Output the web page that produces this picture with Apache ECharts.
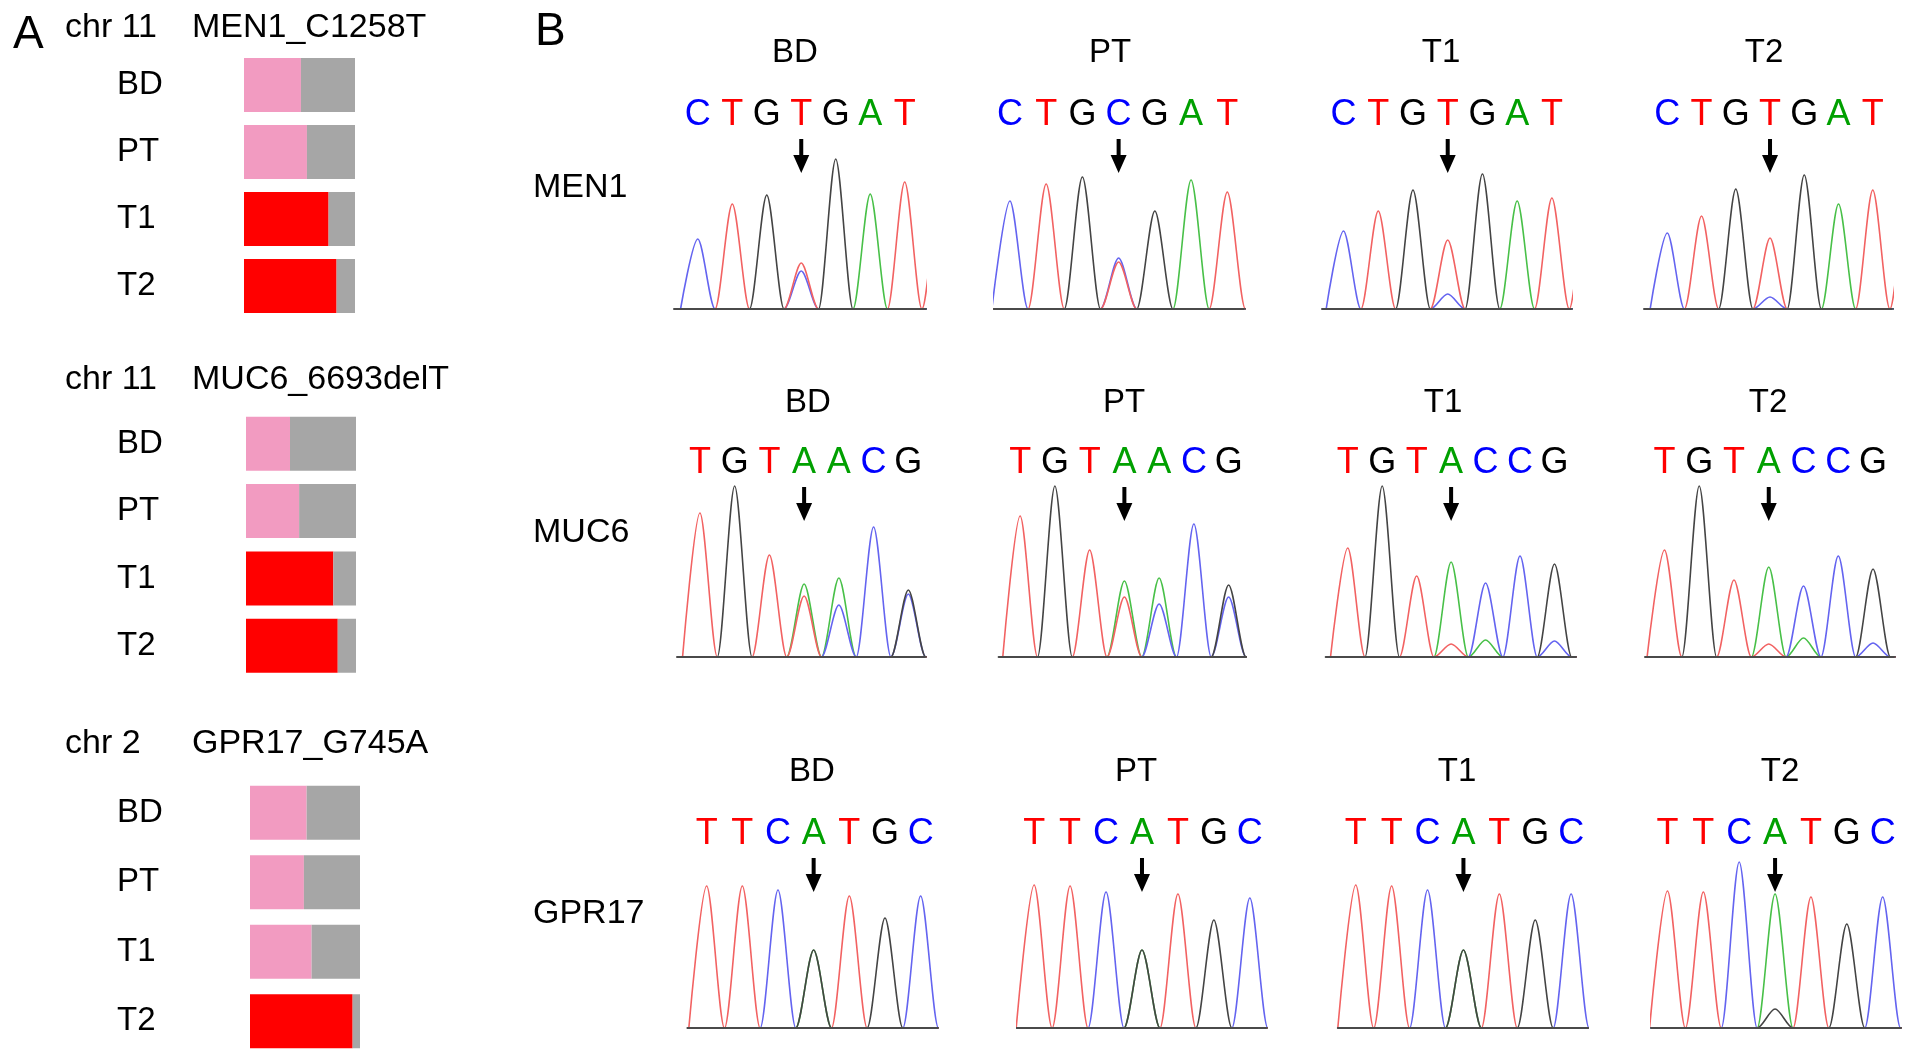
<!DOCTYPE html>
<html><head><meta charset="utf-8">
<script src="https://cdn.jsdelivr.net/npm/echarts@6/dist/echarts.min.js"></script>
<style>html,body{margin:0;padding:0;background:#fff}#c{width:1913px;height:1061px}</style>
</head><body><div id="c"></div>
<script>
// ---------------- DATA ----------------
const samples = ['BD', 'PT', 'T1', 'T2'];
const genes = ['MEN1', 'MUC6', 'GPR17'];
const chroms = ['chr 11', 'chr 11', 'chr 2'];
const variants = ['MEN1_C1258T', 'MUC6_6693delT', 'GPR17_G745A'];

// Panel A: fraction of the coloured (variant) part of each bar
const vafMEN1 = [0.513, 0.567, 0.762, 0.834];
const vafMUC6 = [0.40, 0.483, 0.794, 0.834];
const vafGPR17 = [0.515, 0.49, 0.56, 0.933];
// 1 = drawn red, 0 = drawn pink
const hiMEN1 = [0, 0, 1, 1];
const hiMUC6 = [0, 0, 1, 1];
const hiGPR17 = [0, 0, 0, 1];

// Panel B: base calls per sample
const seqMEN1 = ['CTGTGAT', 'CTGCGAT', 'CTGTGAT', 'CTGTGAT'];
const seqMUC6 = ['TGTAACG', 'TGTAACG', 'TGTACCG', 'TGTACCG'];
const seqGPR17 = ['TTCATGC', 'TTCATGC', 'TTCATGC', 'TTCATGC'];
const mutPos = [3, 3, 3];

// Peak heights at each base position (0..7) per channel, samples BD, PT, T1, T2
// (trace returns to baseline between base positions)
const MEN1_A = [[0,0,0,0,0,115,0,0],[0,0,0,0,0,129,0,0],[0,0,0,0,0,108,0,0],[0,0,0,0,0,105,0,0]];
const MEN1_C = [[70,0,0,38,0,0,0,0],[108,0,0,51,0,0,0,0],[78,0,0,15,0,0,0,0],[76,0,0,12,0,0,0,0]];
const MEN1_G = [[0,0,114,0,150,0,0,0],[0,0,132,0,98,0,0,0],[0,0,119,0,135,0,0,0],[0,0,120,0,134,0,0,0]];
const MEN1_T = [[0,105,0,46,0,0,127,110],[0,125,0,47,0,0,117,0],[0,98,0,69,0,0,111,110],[0,93,0,71,0,0,119,110]];

const MUC6_A = [[0,0,0,73,79,0,0,0],[0,0,0,76,79,0,0,0],[0,0,0,95,17,0,0,0],[0,0,0,90,19,0,0,0]];
const MUC6_C = [[0,0,0,0,52,130,63,0],[0,0,0,0,53,133,60,0],[0,0,0,0,74,101,16,0],[0,0,0,0,71,101,14,0]];
const MUC6_G = [[0,171,0,0,0,0,67,0],[0,171,0,0,0,0,72,0],[0,171,0,0,0,0,93,0],[0,171,0,0,0,0,88,0]];
const MUC6_T = [[144,0,102,61,0,0,0,0],[141,0,107,60,0,0,0,0],[109,0,81,13,0,0,0,0],[107,0,77,13,0,0,0,0]];

const GPR17_A = [[0,0,0,78,0,0,0,0],[0,0,0,78,0,0,0,0],[0,0,0,78,0,0,0,0],[0,0,0,134,0,0,0,0]];
const GPR17_C = [[0,0,138,0,0,0,132,0],[0,0,136,0,0,0,130,0],[0,0,138,0,0,0,134,0],[0,0,166,0,0,0,131,0]];
const GPR17_G = [[0,0,0,78,0,110,0,0],[0,0,0,78,0,108,0,0],[0,0,0,78,0,108,0,0],[0,0,0,19,0,104,0,0]];
const GPR17_T = [[142,142,0,0,132,0,0,0],[143,142,0,0,134,0,0,0],[143,142,0,0,134,0,0,0],[137,136,0,0,131,0,0,0]];

// ---------------- LAYOUT / STYLE ----------------
const FONT = '"Liberation Sans", Arial, Helvetica, sans-serif';
const barGeom = [ // left, width, top, height
  [244, 111, 51.5, 268],
  [246, 110, 410, 269.5],
  [250, 110, 778, 278]
];
const barLabelX = 117;
const chrY = [27.5, 380, 744];
const rowLabelY = [188, 533, 914];
const titleY = [53, 403, 772];
const baseY = [309, 657, 1028];
const chromH = 180;
// per row, per sample: [leftPx, rightPx, axisMin, axisMax, titleCenterX]
const chromGeom = [
  [[674, 925.4, -0.69, 6.6, 795], [994, 1243.6, -0.44, 6.45, 1110], [1322, 1571, -0.62, 6.55, 1441], [1644, 1891.6, -0.68, 6.55, 1764]],
  [[677, 925, -0.66, 6.48, 808], [998.6, 1246, -0.62, 6.5, 1124], [1325.7, 1575.5, -0.64, 6.61, 1443], [1645, 1893.9, -0.56, 6.6, 1768]],
  [[687.4, 937.4, -0.54, 6.47, 812], [1016.9, 1266, -0.48, 6.45, 1136], [1337.8, 1588, -0.5, 6.47, 1457], [1651.7, 1900.6, -0.44, 6.5, 1780]]
];
const traceColor = {A: '#48c048', C: '#6464f0', G: '#444444', T: '#f26262'};
const letterColor = {A: '#00a000', C: '#0000ff', G: '#000000', T: '#ff0000'};

const vafs = [vafMEN1, vafMUC6, vafGPR17];
const his = [hiMEN1, hiMUC6, hiGPR17];
const seqs = [seqMEN1, seqMUC6, seqGPR17];
const peaks = [
  {A: MEN1_A, C: MEN1_C, G: MEN1_G, T: MEN1_T},
  {A: MUC6_A, C: MUC6_C, G: MUC6_G, T: MUC6_T},
  {A: GPR17_A, C: GPR17_C, G: GPR17_G, T: GPR17_T}
];

const grid = [], xAxis = [], yAxis = [], series = [], graphic = [];
let gi = 0, xi = 0;

function txt(x, y, s, size, align) {
  return {type: 'text', x: x, y: y, silent: true,
    style: {text: s, font: size + 'px ' + FONT, fill: '#000', align: align || 'left', verticalAlign: 'middle'}};
}

// ---------- Panel A ----------
for (let g = 0; g < 3; g++) {
  const [l, w, t, h] = barGeom[g];
  grid.push({left: l, width: w, top: t, height: h});
  xAxis.push({type: 'value', gridIndex: gi, min: 0, max: 1, show: false});
  yAxis.push({
    type: 'category', gridIndex: gi, data: samples, inverse: true,
    axisLine: {show: false}, axisTick: {show: false}, splitLine: {show: false},
    axisLabel: {align: 'left', margin: l - barLabelX, fontSize: 33, color: '#000', fontFamily: FONT, padding: [6, 0, 0, 0]}
  });
  series.push({
    type: 'bar', xAxisIndex: xi, yAxisIndex: gi, stack: 'a' + g, barWidth: 54,
    data: vafs[g].map((v, i) => ({value: v, itemStyle: {color: his[g][i] ? '#ff0000' : '#f29bc1'}})),
    silent: true
  });
  series.push({
    type: 'bar', xAxisIndex: xi, yAxisIndex: gi, stack: 'a' + g, barWidth: 54,
    data: vafs[g].map(v => +(1 - v).toFixed(3)), itemStyle: {color: '#a6a6a6'}, silent: true
  });
  gi++; xi++;
  graphic.push(txt(65, chrY[g], chroms[g], 34));
  graphic.push(txt(192, chrY[g], variants[g], 34));
}
graphic.push(txt(13, 35, 'A', 46));
graphic.push(txt(535, 32, 'B', 46));

// ---------- Panel B ----------
const rich = {};
['A', 'C', 'G', 'T'].forEach(k => { rich[k] = {color: letterColor[k], fontSize: 36, fontFamily: FONT, lineHeight: 36}; });
const arrowPath = 'path://M6,0 L10,0 L10,16 L16,16 L8,34 L0,16 L6,16 Z';

for (let r = 0; r < 3; r++) {
  graphic.push(txt(533, rowLabelY[r], genes[r], 34));
  for (let s = 0; s < 4; s++) {
    const [l, rgt, mn, mx, tc] = chromGeom[r][s];
    const seq = seqs[r][s];
    grid.push({left: l, width: rgt - l, top: baseY[r] - chromH, height: chromH});
    const bottomX = xi;
    xAxis.push({
      type: 'value', gridIndex: gi, min: mn, max: mx, position: 'bottom', z: 5,
      axisLine: {show: true, onZero: false, lineStyle: {color: '#4a4a4a', width: 2}},
      axisTick: {show: false}, axisLabel: {show: false}, splitLine: {show: false}
    });
    xAxis.push({
      type: 'value', gridIndex: gi, min: mn, max: mx, position: 'top',
      axisLine: {show: false}, axisTick: {show: false}, splitLine: {show: false},
      axisLabel: {
        show: true, margin: -4,
        customValues: seq.split('').map((c, i) => i),
        formatter: v => { const L = seq[Math.round(v)]; return '{' + L + '|' + L + '}'; },
        rich: rich
      }
    });
    xi += 2;
    yAxis.push({type: 'value', gridIndex: gi, min: 0, max: chromH, show: false, splitLine: {show: false}});
    const chans = ['A', 'C', 'T', 'G'];
    chans.forEach((ch, ci) => {
      const h = peaks[r][ch][s];
      const pts = [];
      for (let i = 0; i < h.length; i++) { pts.push([i - 0.5, 0]); pts.push([i, h[i]]); }
      pts.push([h.length - 0.5, 0]);
      const ser = {
        type: 'line', xAxisIndex: bottomX, yAxisIndex: gi, data: pts,
        showSymbol: false, symbol: 'none', smooth: 0.3, smoothMonotone: 'x', clip: true,
        lineStyle: {color: traceColor[ch], width: 1.6}, silent: true, z: 2
      };
      if (ci === chans.length - 1) {
        ser.markPoint = {
          silent: true, symbol: arrowPath, symbolSize: [16, 34],
          itemStyle: {color: '#000'}, label: {show: false},
          data: [{coord: [mutPos[r], 153]}]
        };
      }
      series.push(ser);
    });
    graphic.push(txt(tc, titleY[r], samples[s], 33, 'center'));
    gi++;
  }
}

const chart = echarts.init(document.getElementById('c'), null, {renderer: 'canvas'});
chart.setOption({
  animation: false,
  backgroundColor: '#ffffff',
  textStyle: {fontFamily: FONT},
  grid, xAxis, yAxis, series, graphic
});
</script></body></html>
